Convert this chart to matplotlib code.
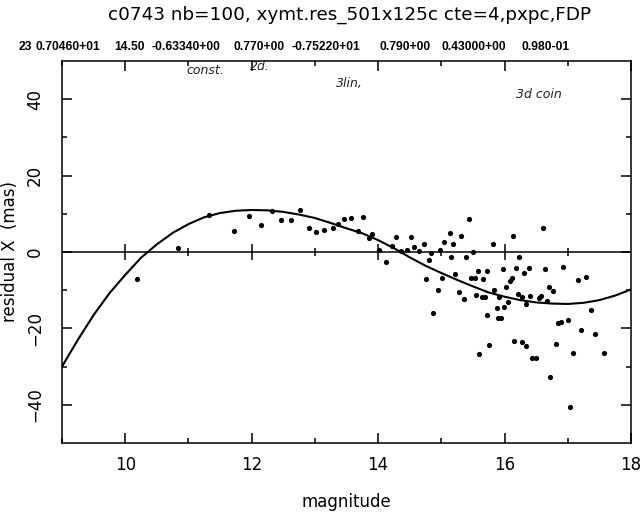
import matplotlib
matplotlib.use("Agg")
import matplotlib.pyplot as plt
import numpy as np

# ---------------- data ----------------
magnitude = [10.18, 10.84, 11.33, 11.72, 11.96, 12.15, 12.32, 12.46, 12.62, 12.77,
             12.90, 13.02, 13.15, 13.28, 13.37, 13.46, 13.57, 13.68, 13.76, 13.91,
             13.86, 14.02, 14.12, 14.22, 14.28, 14.36, 14.45, 14.52, 14.57, 14.64,
             14.72, 14.80, 14.76, 14.83, 14.87, 14.94, 14.98, 15.01, 15.05, 15.13,
             15.15, 15.19, 15.22, 15.28, 15.31, 15.36, 15.39, 15.44, 15.50, 15.47,
             15.53, 15.55, 15.58, 15.60, 15.64, 15.66, 15.69, 15.72, 15.73, 15.76,
             15.81, 15.83, 15.88, 15.90, 15.94, 15.92, 15.98, 15.99, 16.02, 16.05,
             16.09, 16.11, 16.13, 16.15, 16.18, 16.22, 16.23, 16.27, 16.28, 16.31,
             16.34, 16.34, 16.39, 16.41, 16.44, 16.50, 16.55, 16.58, 16.61, 16.64,
             16.67, 16.71, 16.72, 16.77, 16.81, 16.85, 16.89, 16.93, 17.00, 17.04,
             17.09, 17.16, 17.21, 17.29, 17.37, 17.43, 17.58]
residual_x = [-7.1, 1.1, 9.7, 5.4, 9.5, 7.1, 10.7, 8.4, 8.5, 11.0,
              6.4, 5.3, 5.7, 6.3, 7.2, 8.7, 8.9, 5.5, 9.1, 4.7,
              3.6, 0.5, -2.7, 1.6, 3.8, 0.3, 0.5, 3.8, 1.4, 0.3,
              2.0, -2.1, -7.0, -0.3, -16.0, -9.9, 0.5, -6.7, 2.7, 5.1,
              -1.4, 2.1, -5.7, -10.4, 4.2, -12.3, -1.4, 8.6, 0.1, -6.7,
              -6.7, -11.2, -4.9, -26.7, -11.8, -7.0, -11.8, -5.1, -16.4, -24.4,
              2.1, -9.9, -14.7, -17.3, -17.3, -11.7, -4.4, -14.4, -9.2, -13.1,
              -7.7, -6.7, 4.2, -23.4, -4.3, -11.0, -1.2, -11.8, -23.6, -5.6,
              -24.7, -13.6, -4.3, -11.4, -27.8, -27.8, -12.1, -11.5, 6.3, -4.4,
              -12.8, -9.1, -32.6, -10.1, -24.1, -18.6, -18.4, -4.0, -17.9, -40.5,
              -26.4, -7.3, -20.5, -6.6, -15.1, -21.4, -26.4]

# fitted curve
fit_mag = [9.0, 9.25, 9.5, 9.75, 10.0, 10.25, 10.5, 10.75, 11.0, 11.25, 11.5, 11.75,
           12.0, 12.25, 12.5, 12.75, 13.0, 13.25, 13.5, 13.75, 14.0, 14.25, 14.5,
           14.75, 15.0, 15.25, 15.5, 15.75, 16.0, 16.25, 16.5, 16.75, 17.0, 17.25,
           17.5, 17.75, 18.0]
fit_res = [-30.0, -23.0, -16.5, -10.8, -6.0, -1.5, 2.0, 5.0, 7.3, 9.1, 10.2, 10.8,
           11.0, 10.9, 10.5, 9.8, 8.9, 7.6, 6.2, 4.9, 3.1, 1.0, -1.4,
           -3.6, -5.5, -7.3, -9.0, -10.6, -11.7, -12.6, -13.2, -13.5, -13.6, -13.3,
           -12.6, -11.4, -9.8]

title_text = "c0743 nb=100, xymt.res_501x125c cte=4,pxpc,FDP"
header_values = ["23", "0.70460+01", "14.50", "-0.63340+00", "0.770+00",
                 "-0.75220+01", "0.790+00", "0.43000+00", "0.980-01"]
notes = ["const.", "2d.", "3lin,", "3d coin"]

x_ticks = [10, 12, 14, 16, 18]
y_ticks = [-40, -20, 0, 20, 40]
x_label = "magnitude"
y_label = "residual X  (mas)"

# ---------------- layout ----------------
W, H = 643, 512
header_x = [19, 36, 114, 151, 234, 292, 379, 441, 522]
notes_xy = [(186, 71), (250, 67), (336, 83), (516, 95)]

plt.rcParams["font.family"] = ["DejaVu Sans"]
fig = plt.figure(figsize=(W / 100, H / 100), dpi=100)
left, right, top, bottom = 62, 631, 61, 443
ax = fig.add_axes([left / W, 1 - bottom / H, (right - left) / W, (bottom - top) / H])

ax.set_xlim(9, 18)
ax.set_ylim(-50, 50)

ax.axhline(0, color="black", lw=1.1, zorder=2)
# ticks on the zero line
major_x = [m for m in range(10, 18, 2)]
minor_x = [m for m in range(11, 18, 2)]
ax.plot(major_x, [0] * len(major_x), ls="none", marker="|", ms=12, mew=1.1, color="black")
ax.plot(minor_x, [0] * len(minor_x), ls="none", marker="|", ms=6, mew=1.1, color="black")

ax.plot(fit_mag, fit_res, color="black", lw=1.5, zorder=3)
ax.scatter(magnitude, residual_x, s=14, color="black", zorder=4, linewidths=0)

ax.set_xticks(x_ticks)
ax.set_xticks([9, 11, 13, 15, 17], minor=True)
ax.set_yticks(y_ticks)
ax.set_yticks([-30, -10, 10, 30], minor=True)
ax.tick_params(axis="both", which="major", direction="in", length=7, width=1.1,
               top=True, right=True, labelsize=12, pad=9)
ax.tick_params(axis="y", which="major", pad=13)
ax.tick_params(axis="both", which="minor", direction="in", length=3.5, width=1.1,
               top=True, right=True)
for lab in ax.get_yticklabels():
    lab.set_rotation(90)
    lab.set_va("center")
for s in ax.spines.values():
    s.set_linewidth(1.1)

ax.set_xlabel(x_label, fontsize=12, labelpad=14)
ax.set_ylabel(y_label, fontsize=12)
ax.yaxis.set_label_coords(-0.075, 0.5)

fig.text(0.5 * (110 + 590) / W, 1 - 15 / H, title_text, fontsize=13.2,
         ha="center", va="center")
for xv, txt in zip(header_x, header_values):
    fig.text(xv / W, 1 - 47 / H, txt, fontsize=8.7, ha="left", va="center",
             fontweight="bold", family=["Liberation Sans", "DejaVu Sans"])
for (nx, ny), txt in zip(notes_xy, notes):
    fig.text(nx / W, 1 - ny / H, txt, fontsize=9, ha="left", va="center",
             fontstyle="italic", color="#222222")

fig.savefig("out.png", dpi=100)
